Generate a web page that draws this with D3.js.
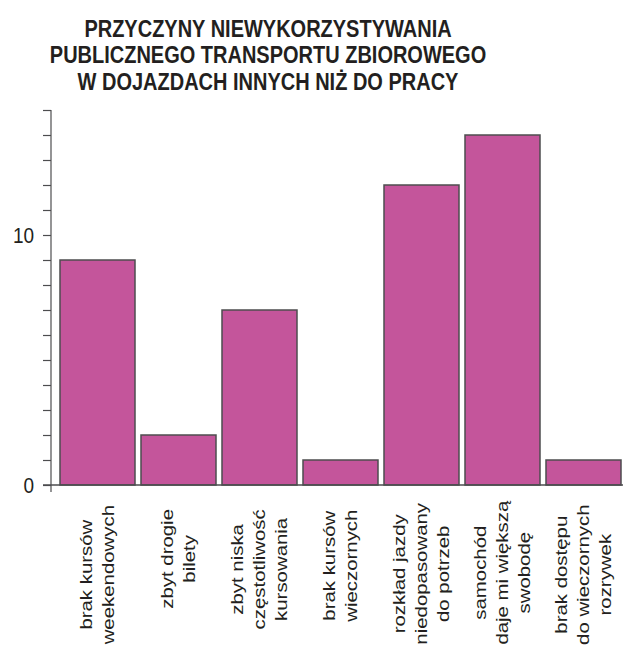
<!DOCTYPE html>
<html>
<head>
<meta charset="utf-8">
<script src="https://cdn.jsdelivr.net/npm/d3@7"></script>
<style>
  body { margin: 0; background: #fff; }
  svg text { font-family: "Liberation Sans", Arial, sans-serif; fill: #231f20; }
</style>
</head>
<body>
<svg id="chart" width="627" height="648"></svg>
<script>
// data
var titleLines = ['PRZYCZYNY NIEWYKORZYSTYWANIA', 'PUBLICZNEGO TRANSPORTU ZBIOROWEGO', 'W DOJAZDACH INNYCH NIŻ DO PRACY'];
var categories = [
  ['brak kursów', 'weekendowych'],
  ['zbyt drogie', 'bilety'],
  ['zbyt niska', 'częstotliwość', 'kursowania'],
  ['brak kursów', 'wieczornych'],
  ['rozkład jazdy', 'niedopasowany', 'do potrzeb'],
  ['samochód', 'daje mi większą', 'swobodę'],
  ['brak dostępu', 'do wieczornych', 'rozrywek']
];
var values = [9, 2, 7, 1, 12, 14, 1];
var yLabelTicks = [0, 10];
var yMax = 15;

// the source picture is stretched vertically a bit
var vStretch = 1.2;

var svg = d3.select('#chart');

// title
svg.append('g')
  .attr('transform', 'translate(268,37) scale(1,' + vStretch + ')')
  .append('text')
  .attr('text-anchor', 'middle')
  .style('font-size', '20px')
  .style('font-weight', 'bold')
  .selectAll('tspan')
  .data(titleLines)
  .join('tspan')
    .attr('x', 0)
    .attr('y', (d, i) => i * 26.5 / vStretch)
    .text(d => d);

var y = d3.scaleLinear().domain([0, yMax]).range([485, 110]);
var x = d3.scaleBand()
  .domain(d3.range(values.length))
  .range([57, 624])
  .paddingInner(0.074)
  .paddingOuter(0.037);

// bars
svg.append('g')
  .selectAll('rect')
  .data(values)
  .join('rect')
    .attr('x', (d, i) => x(i))
    .attr('y', d => y(d))
    .attr('width', x.bandwidth())
    .attr('height', d => y(0) - y(d))
    .attr('fill', '#c4559b')
    .attr('stroke', '#4d4d4f')
    .attr('stroke-width', 1.5);

// y axis: minor ticks every 1, labels only at 0 and 10
var yAxis = svg.append('g')
  .attr('transform', 'translate(51,0)')
  .call(d3.axisLeft(y).tickValues(d3.range(0, yMax + 1)).tickSize(8).tickFormat(''));
yAxis.select('.domain').remove();
yAxis.selectAll('line').attr('stroke', '#4d4d4f').attr('stroke-width', 1.2);
svg.append('line')
  .attr('x1', 51).attr('x2', 51)
  .attr('y1', y(yMax)).attr('y2', y(0) + 7)
  .attr('stroke', '#4d4d4f').attr('stroke-width', 1.2);

svg.append('g')
  .selectAll('g')
  .data(yLabelTicks)
  .join('g')
    .attr('transform', d => 'translate(34,' + y(d) + ') scale(1,' + vStretch + ')')
  .append('text')
    .attr('dy', '0.35em')
    .attr('text-anchor', 'end')
    .style('font-size', '19px')
    .text(d => d);

// baseline
svg.append('line')
  .attr('x1', 43).attr('x2', 623)
  .attr('y1', y(0)).attr('y2', y(0))
  .attr('stroke', '#4d4d4f').attr('stroke-width', 1.5);

// category labels, rotated, lines centred on each other; keep them inside the page
var fontSize = 17, lineH = 22, labelTop = 509, labelBottomMax = 645;
var labels = svg.append('g');
categories.forEach(function(lines, i) {
  var cx = x(i) + x.bandwidth() / 2;
  var g = labels.append('g');
  var t = g.append('text')
    .attr('text-anchor', 'middle')
    .style('font-size', fontSize + 'px');
  lines.forEach(function(l, j) {
    t.append('tspan')
      .attr('x', 0)
      .attr('y', (j - (lines.length - 1) / 2) * lineH)
      .attr('dy', '0.35em')
      .text(l);
  });
  var w = t.node().getBBox().width * vStretch;
  var top = Math.min(labelTop, labelBottomMax - w);
  g.attr('transform', 'translate(' + cx + ',' + (top + w / 2) + ') rotate(-90) scale(' + vStretch + ',1)');
});
</script>
</body>
</html>
